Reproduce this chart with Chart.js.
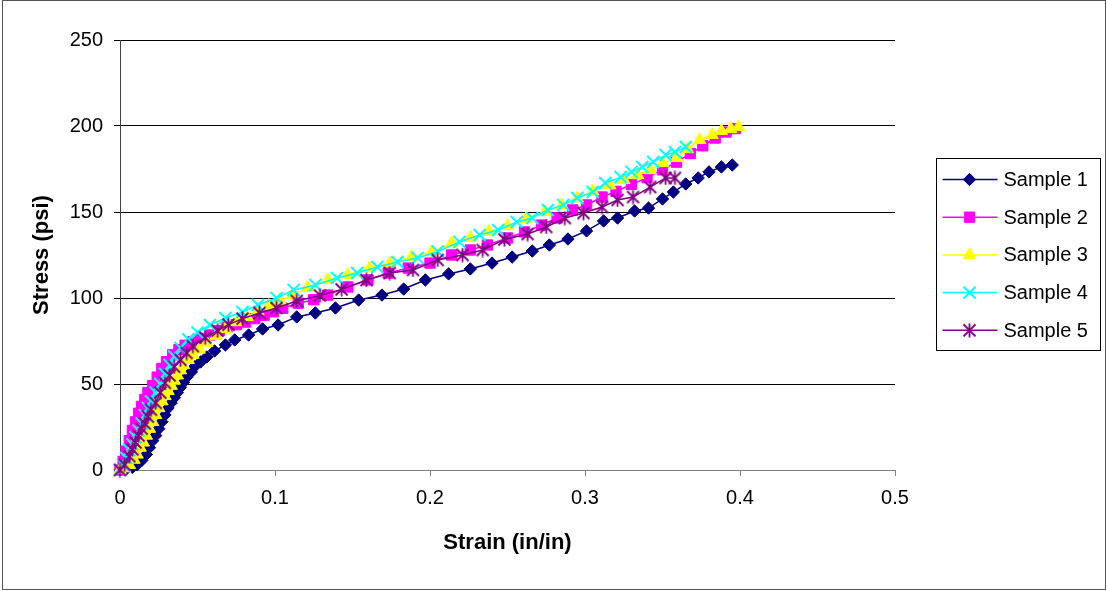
<!DOCTYPE html>
<html>
<head>
<meta charset="utf-8">
<title>Stress vs Strain</title>
<script src="https://cdn.jsdelivr.net/npm/chart.js@4.4.1/dist/chart.umd.min.js"></script>
<style>
  html, body { margin: 0; padding: 0; background: #fff; }
  canvas { display: block; }
</style>
</head>
<body>
<canvas id="chart" width="1107" height="591"></canvas>
<script>
// ---- data: strain (in/in) and stress (psi) for each sample ----
const sample1Strain = [0, 0.004, 0.008, 0.011, 0.014, 0.017, 0.019, 0.021, 0.023, 0.025, 0.027, 0.029, 0.031, 0.033, 0.035, 0.037, 0.039, 0.041, 0.043, 0.046, 0.048, 0.052, 0.056, 0.061, 0.068, 0.074, 0.083, 0.092, 0.102, 0.114, 0.126, 0.139, 0.154, 0.169, 0.183, 0.197, 0.212, 0.226, 0.240, 0.253, 0.266, 0.277, 0.289, 0.301, 0.312, 0.321, 0.332, 0.341, 0.350, 0.357, 0.365, 0.373, 0.380, 0.388, 0.395];
const sample1Stress = [0, 0.5, 1.5, 3, 5.5, 9, 13, 17, 20, 24, 28, 32, 36, 39, 42, 45, 48, 51, 54, 57, 60, 62.8, 65.7, 69.2, 72.7, 75.6, 78.5, 82, 84.3, 89, 91.3, 94.2, 98.8, 101.7, 105.2, 110.5, 114, 116.9, 120.3, 123.8, 127.3, 130.8, 134.3, 139, 144.8, 146.5, 150.6, 152.3, 157.6, 161.6, 166.3, 169.8, 173.3, 176.2, 177.3];

const sample2Strain = [0, 0.002, 0.004, 0.006, 0.008, 0.010, 0.012, 0.014, 0.016, 0.018, 0.021, 0.024, 0.027, 0.030, 0.034, 0.038, 0.042, 0.047, 0.052, 0.058, 0.064, 0.069, 0.075, 0.081, 0.087, 0.093, 0.099, 0.105, 0.115, 0.125, 0.134, 0.147, 0.160, 0.173, 0.186, 0.200, 0.214, 0.226, 0.237, 0.250, 0.261, 0.272, 0.282, 0.292, 0.301, 0.311, 0.320, 0.330, 0.340, 0.350, 0.359, 0.368, 0.376, 0.384, 0.391, 0.397];
const sample2Stress = [0, 5, 11, 17, 23, 28, 33, 37, 41, 45, 49, 54, 59, 63, 67, 70, 72.5, 74.5, 76.5, 78.5, 81, 83, 84.5, 86, 88, 90, 92, 94, 97, 99, 101.7, 106.4, 110.5, 114.5, 117.4, 120.3, 125, 127.9, 130.8, 134.9, 138.4, 142.4, 146.5, 151.2, 154.1, 158.7, 162, 166, 170, 174.5, 179, 184, 188.5, 193, 196.5, 198.5];

const sample3Strain = [0, 0.003, 0.006, 0.009, 0.011, 0.013, 0.015, 0.017, 0.019, 0.021, 0.023, 0.025, 0.027, 0.029, 0.031, 0.033, 0.035, 0.037, 0.039, 0.041, 0.044, 0.047, 0.051, 0.056, 0.062, 0.068, 0.075, 0.082, 0.089, 0.096, 0.103, 0.111, 0.121, 0.134, 0.147, 0.161, 0.174, 0.188, 0.201, 0.214, 0.226, 0.238, 0.250, 0.262, 0.274, 0.285, 0.295, 0.305, 0.316, 0.325, 0.334, 0.342, 0.350, 0.359, 0.366, 0.374, 0.382, 0.388, 0.394, 0.399];
const sample3Stress = [0, 1, 3, 6, 9, 13, 16, 20, 24, 28, 32, 36, 40, 43, 46, 49, 52, 55, 58, 61, 64, 67, 70, 74, 78, 82, 86, 89, 92.5, 95.5, 98.5, 101.5, 106, 110.5, 113.4, 117.4, 120.3, 123.8, 126.7, 132, 135, 138.5, 142, 146, 150, 154, 158, 162, 165.5, 168.6, 171.5, 174.4, 178.5, 181.4, 186.6, 191.9, 194.8, 197.1, 198.3, 199.5];

const sample4Strain = [0, 0.002, 0.004, 0.006, 0.008, 0.010, 0.012, 0.014, 0.016, 0.018, 0.020, 0.023, 0.026, 0.029, 0.032, 0.035, 0.039, 0.044, 0.050, 0.058, 0.068, 0.079, 0.089, 0.101, 0.112, 0.126, 0.140, 0.153, 0.166, 0.179, 0.192, 0.205, 0.219, 0.232, 0.244, 0.256, 0.266, 0.276, 0.286, 0.295, 0.305, 0.313, 0.323, 0.330, 0.337, 0.344, 0.352, 0.358, 0.365];
const sample4Stress = [0, 3, 7, 11.6, 15, 19, 23, 27, 32, 36, 40, 45, 50, 56, 61, 66, 71, 76, 80, 84.3, 88.4, 91.9, 95.9, 100, 104.7, 107.6, 111.6, 114.5, 118, 120.9, 123.3, 127, 132.6, 136.6, 139.5, 144.2, 146.5, 151.2, 154.1, 158.1, 161.6, 166.9, 170.3, 173.3, 176.2, 179.1, 183.1, 184.9, 187.8];

const sample5Strain = [0, 0.003, 0.006, 0.008, 0.010, 0.012, 0.014, 0.016, 0.018, 0.020, 0.023, 0.026, 0.029, 0.032, 0.035, 0.039, 0.043, 0.047, 0.055, 0.063, 0.070, 0.079, 0.090, 0.101, 0.114, 0.129, 0.143, 0.159, 0.174, 0.189, 0.205, 0.221, 0.234, 0.248, 0.263, 0.275, 0.287, 0.299, 0.311, 0.321, 0.331, 0.342, 0.352, 0.358];
const sample5Stress = [0, 3, 8, 12, 16, 20, 24, 27, 31, 35, 39, 45, 50.6, 55, 60, 64, 68, 72, 77, 81, 84.5, 88, 91.3, 94.2, 98.3, 101.5, 105, 110.5, 114.5, 116.3, 122.1, 125, 127.9, 134, 137.2, 141.3, 146.5, 149.4, 152.9, 157, 158.7, 164.5, 169.8, 169.8];

const seriesNames = ['Sample 1', 'Sample 2', 'Sample 3', 'Sample 4', 'Sample 5'];
const xTickLabels = ['0', '0.1', '0.2', '0.3', '0.4', '0.5'];
const yTickLabels = ['0', '50', '100', '150', '200', '250'];

// ---- styling ----
const FONT = '"Liberation Sans", Arial, Helvetica, sans-serif';
const seriesColors = ['#000080', '#FF00FF', '#FFFF00', '#00FFFF', '#800080'];

// six-armed asterisk marker
function makeAsterisk(color) {
  const c = document.createElement('canvas');
  c.width = 15; c.height = 15;
  const g = c.getContext('2d');
  g.strokeStyle = color;
  g.lineWidth = 1.8;
  g.beginPath();
  g.moveTo(7.5, 0.5); g.lineTo(7.5, 14.5);
  g.moveTo(1.5, 1.5); g.lineTo(13.5, 13.5);
  g.moveTo(13.5, 1.5); g.lineTo(1.5, 13.5);
  g.stroke();
  return c;
}

const markerStyles = [
  { pointStyle: 'rectRot', radius: 6.2, borderWidth: 1 },
  { pointStyle: 'rect', radius: 7.3, borderWidth: 1 },
  { pointStyle: 'triangle', radius: 7.2, borderWidth: 1 },
  { pointStyle: 'crossRot', radius: 8.5, borderWidth: 2 },
  { pointStyle: makeAsterisk(seriesColors[4]), radius: 7, borderWidth: 1 }
];

const strainSets = [sample1Strain, sample2Strain, sample3Strain, sample4Strain, sample5Strain];
const stressSets = [sample1Stress, sample2Stress, sample3Stress, sample4Stress, sample5Stress];

const datasets = seriesNames.map((name, i) => ({
  label: name,
  data: strainSets[i].map((s, k) => ({ x: s, y: stressSets[i][k] })),
  showLine: true,
  borderColor: seriesColors[i],
  backgroundColor: seriesColors[i],
  borderWidth: 1.5,
  pointStyle: markerStyles[i].pointStyle,
  pointRadius: markerStyles[i].radius,
  pointHoverRadius: markerStyles[i].radius,
  pointBorderWidth: markerStyles[i].borderWidth,
  pointBorderColor: seriesColors[i],
  pointBackgroundColor: seriesColors[i],
  tension: 0,
  clip: false,
  order: seriesNames.length - i
}));

// frame around the whole figure and the boxed legend on the right
const framePlugin = {
  id: 'frameAndLegend',
  afterDraw(chart) {
    const ctx = chart.ctx;
    ctx.save();
    ctx.strokeStyle = '#555';
    ctx.lineWidth = 1;
    ctx.strokeRect(2.5, 0.5, chart.width - 4, chart.height - 2);

    // legend box
    const box = { x: 936.5, y: 158.5, w: 164, h: 192 };
    ctx.strokeStyle = '#000';
    ctx.strokeRect(box.x, box.y, box.w, box.h);
    const rowH = 37.7;
    seriesNames.forEach((name, i) => {
      const cy = box.y + 21 + i * rowH;
      ctx.strokeStyle = seriesColors[i];
      ctx.lineWidth = 1.5;
      ctx.beginPath();
      ctx.moveTo(box.x + 6, cy);
      ctx.lineTo(box.x + 61, cy);
      ctx.stroke();
      const m = markerStyles[i];
      ctx.fillStyle = seriesColors[i];
      ctx.lineWidth = m.borderWidth;
      if (Chart.helpers && Chart.helpers.drawPoint) {
        Chart.helpers.drawPoint(ctx, { pointStyle: m.pointStyle, radius: m.radius, rotation: 0, borderWidth: m.borderWidth }, box.x + 33, cy);
      }
      ctx.fillStyle = '#000';
      ctx.font = '20px ' + FONT;
      ctx.textAlign = 'left';
      ctx.textBaseline = 'middle';
      ctx.fillText(name, box.x + 67, cy + 1);
    });
    ctx.restore();
  }
};

new Chart(document.getElementById('chart'), {
  type: 'scatter',
  data: { datasets },
  plugins: [framePlugin],
  options: {
    responsive: false,
    animation: false,
    events: [],
    layout: { padding: { top: 40, right: 212, bottom: 0, left: 0 } },
    plugins: {
      legend: { display: false },
      tooltip: { enabled: false }
    },
    scales: {
      x: {
        type: 'linear',
        min: 0,
        max: 0.5,
        afterFit(scale) { scale.height = 121; },
        ticks: {
          stepSize: 0.1,
          autoSkip: false,
          maxRotation: 0,
          padding: 10,
          color: '#000',
          font: { family: FONT, size: 20 },
          callback: (v, i) => xTickLabels[i]
        },
        grid: { drawOnChartArea: false, drawTicks: true, tickLength: 6, color: '#808080', tickColor: '#808080' },
        border: { display: true, color: '#808080', width: 1 },
        title: {
          display: true,
          text: 'Strain (in/in)',
          color: '#000',
          font: { family: FONT, size: 22, weight: 'bold' },
          padding: { top: 0, bottom: 35 }
        }
      },
      y: {
        type: 'linear',
        min: 0,
        max: 250,
        afterFit(scale) { scale.width = 120; },
        ticks: {
          stepSize: 50,
          padding: 11,
          color: '#000',
          font: { family: FONT, size: 20 },
          callback: (v, i) => yTickLabels[i]
        },
        grid: {
          drawTicks: true,
          tickLength: 6,
          color: (c) => (c.tick && c.tick.value === 0 ? 'rgba(0,0,0,0)' : '#000'),
          tickColor: '#000'
        },
        border: { display: true, color: '#404040', width: 1 },
        title: {
          display: true,
          text: 'Stress (psi)',
          color: '#000',
          font: { family: FONT, size: 22, weight: 'bold' },
          padding: { top: 29, bottom: 0 }
        }
      }
    }
  }
});
</script>
</body>
</html>
